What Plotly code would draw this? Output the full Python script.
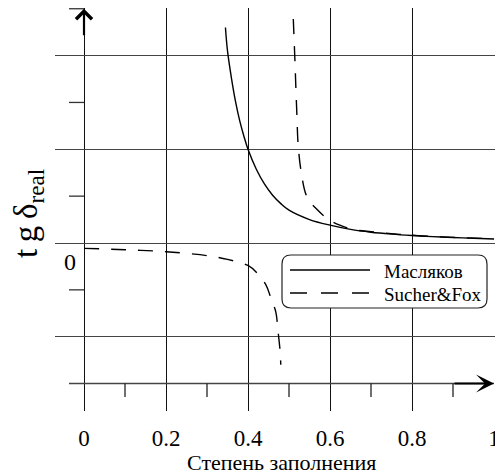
import plotly.graph_objects as go

# ---- data ----
masl_x = [0.345, 0.35, 0.36, 0.37, 0.38, 0.39, 0.40, 0.42, 0.44, 0.46, 0.48, 0.50,
          0.55, 0.60, 0.65, 0.70, 0.75, 0.80, 0.85, 0.90, 0.95, 1.00]
masl_y = [2.30, 2.05, 1.75, 1.50, 1.30, 1.14, 1.00, 0.79, 0.63, 0.51, 0.42, 0.35,
          0.25, 0.19, 0.145, 0.115, 0.095, 0.08, 0.068, 0.058, 0.05, 0.042]

sf_up_x = [0.5105, 0.5146, 0.517, 0.5195, 0.522, 0.529, 0.544, 0.568, 0.595, 0.624,
           0.656, 0.70, 0.75, 0.80, 0.85, 0.90, 0.95, 1.00]
sf_up_y = [2.39, 1.93, 1.63, 1.34, 1.07, 0.78, 0.49, 0.36, 0.256, 0.19,
           0.145, 0.12, 0.10, 0.083, 0.07, 0.06, 0.052, 0.045]

sf_lo_x = [0.0, 0.1, 0.2, 0.3, 0.35, 0.40, 0.422, 0.444, 0.456, 0.468, 0.473, 0.478, 0.480]
sf_lo_y = [-0.057, -0.072, -0.093, -0.135, -0.175, -0.24, -0.32, -0.45, -0.59, -0.74,
           -0.93, -1.14, -1.30]

x_major = [0, 0.2, 0.4, 0.6, 0.8, 1.0]
x_labels = ["0", "0.2", "0.4", "0.6", "0.8", "1"]
x_minor = [0.1, 0.3, 0.5, 0.7, 0.9]
y_major = [-1, 0, 1, 2]
y_minor = [-0.5, 0.5, 1.5, 2.5]

series_names = ["Масляков", "Sucher&Fox"]

# ---- geometry ----
W, H = 495, 475
ML, MR, MT, MB = 55, 0, 8, 64
XR = [-0.07073, 1.00244]
YR = [-1.793, 2.508]
FONT = "Liberation Serif, Times New Roman, serif"

def px2paper_x(px):
    return (px - ML) / (W - ML - MR)

def py2paper_y(py):
    return (H - MB - py) / (H - MT - MB)

fig = go.Figure()
fig.add_trace(go.Scatter(x=masl_x, y=masl_y, mode="lines", name=series_names[0],
                         line=dict(color="black", width=1.4, shape="spline"),
                         showlegend=False))
fig.add_trace(go.Scatter(x=sf_up_x, y=sf_up_y, mode="lines", name=series_names[1],
                         line=dict(color="black", width=1.4, dash="15px,12px", shape="spline"),
                         showlegend=False))
fig.add_trace(go.Scatter(x=sf_lo_x, y=sf_lo_y, mode="lines", name=series_names[1],
                         line=dict(color="black", width=1.4, dash="15px,12px", shape="spline"),
                         showlegend=False))

shapes = []
# x axis line
shapes.append(dict(type="line", xref="x", yref="y", x0=-0.0366, x1=1.0, y0=-1.5, y1=-1.5,
                   line=dict(color="#444", width=1.5)))
# minor ticks on y axis
for yv in y_minor:
    shapes.append(dict(type="line", xref="x", yref="y", x0=-0.0366, x1=0, y0=yv, y1=yv,
                       line=dict(color="#333", width=1.3)))
# minor ticks on x axis
for xv in x_minor:
    shapes.append(dict(type="line", xref="x", yref="y", x0=xv, x1=xv, y0=-1.5, y1=-1.644,
                       line=dict(color="#222", width=1.3)))

# legend box (rounded) in paper coords
lx0, lx1, ly0, ly1, r = 282, 487, 255, 308, 9
def P(px, py):
    return f"{px2paper_x(px)},{py2paper_y(py)}"
path = (f"M {P(lx0 + r, ly0)} L {P(lx1 - r, ly0)} Q {P(lx1, ly0)} {P(lx1, ly0 + r)} "
        f"L {P(lx1, ly1 - r)} Q {P(lx1, ly1)} {P(lx1 - r, ly1)} "
        f"L {P(lx0 + r, ly1)} Q {P(lx0, ly1)} {P(lx0, ly1 - r)} "
        f"L {P(lx0, ly0 + r)} Q {P(lx0, ly0)} {P(lx0 + r, ly0)} Z")
shapes.append(dict(type="path", xref="paper", yref="paper", path=path, layer="above",
                   fillcolor="white", line=dict(color="#222", width=1.2)))
shapes.append(dict(type="line", xref="paper", yref="paper", layer="above",
                   x0=px2paper_x(290), x1=px2paper_x(370), y0=py2paper_y(270), y1=py2paper_y(270),
                   line=dict(color="black", width=1.4)))
shapes.append(dict(type="line", xref="paper", yref="paper", layer="above",
                   x0=px2paper_x(290), x1=px2paper_x(370), y0=py2paper_y(293), y1=py2paper_y(293),
                   line=dict(color="black", width=1.4, dash="17px,14px")))

annotations = [
    dict(text=series_names[0], xref="paper", yref="paper", x=px2paper_x(382), y=py2paper_y(271),
         xanchor="left", yanchor="middle", showarrow=False, font=dict(family=FONT, size=19, color="black")),
    dict(text=series_names[1], xref="paper", yref="paper", x=px2paper_x(382), y=py2paper_y(294),
         xanchor="left", yanchor="middle", showarrow=False, font=dict(family=FONT, size=19, color="black")),
    # axis arrows
    dict(x=1.0, y=-1.5, ax=0.9, ay=-1.5, xref="x", yref="y", axref="x", ayref="y", text="",
         showarrow=True, arrowhead=3, arrowsize=1.5, arrowwidth=2, arrowcolor="black"),
    dict(x=0, y=2.5, ax=0, ay=2.2, xref="x", yref="y", axref="x", ayref="y", text="",
         showarrow=True, arrowhead=4, arrowsize=1.4, arrowwidth=2.2, arrowcolor="black"),
    # zero label
    dict(text="0", xref="x", yref="y", x=-0.034, y=-0.2, showarrow=False,
         font=dict(family=FONT, size=24, color="black")),
    # axis titles
    dict(text="Степень заполнения", xref="paper", yref="paper", x=px2paper_x(281), y=py2paper_y(462),
         xanchor="center", yanchor="middle", showarrow=False, font=dict(family=FONT, size=22, color="black")),
    dict(text="t\u2009g\u2009δ<sub>real</sub>", xref="paper", yref="paper", x=px2paper_x(29), y=py2paper_y(214),
         xanchor="center", yanchor="middle", textangle=-90, showarrow=False,
         font=dict(family=FONT, size=33, color="black")),
]

fig.update_layout(
    width=W, height=H, template="none",
    margin=dict(l=ML, r=MR, t=MT, b=MB, pad=0),
    paper_bgcolor="white", plot_bgcolor="white",
    xaxis=dict(range=XR, tickvals=x_major, ticktext=x_labels, showgrid=True, gridcolor="#111",
               gridwidth=1.3, zeroline=False, showline=False, ticks="", automargin=False,
               ticklabeloverflow="allow", ticklabelstandoff=11,
               tickfont=dict(family=FONT, size=23, color="black")),
    yaxis=dict(range=YR, tickvals=y_major, showticklabels=False, showgrid=True, gridcolor="#444",
               gridwidth=1.3, zeroline=False, showline=False, ticks="", automargin=False),
    shapes=shapes, annotations=annotations, showlegend=False,
)
fig.write_html("out.html", config={"displayModeBar": False},
               post_script="document.body.style.margin='0px';document.body.style.overflow='hidden';")
